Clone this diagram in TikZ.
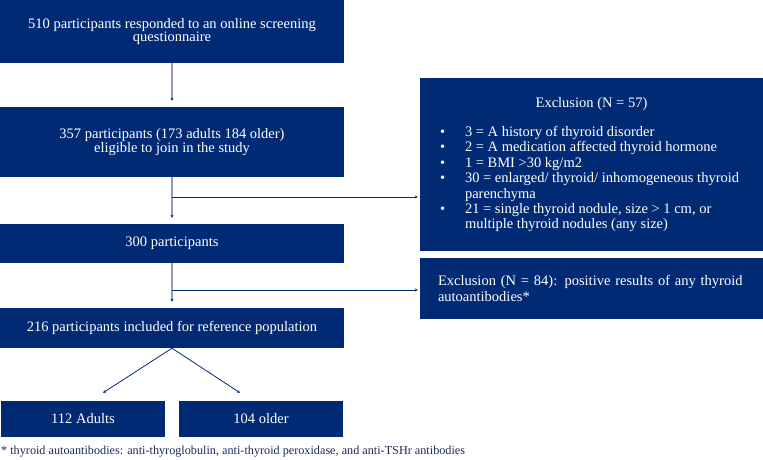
\documentclass[tikz,border=0pt]{standalone}
\usepackage{fontspec}
\setmainfont{Liberation Serif}
\usetikzlibrary{arrows.meta}
\definecolor{navy}{RGB}{0,43,116}
\definecolor{graystem}{RGB}{150,155,185}
\definecolor{foot}{RGB}{30,40,90}
\tikzset{
  box/.style={fill=navy, text=white, inner sep=0pt, align=center,
    font=\fontsize{14.5}{13.3}\selectfont},
  exbox/.style={fill=navy, text=white, inner xsep=18pt, inner ysep=0pt, align=left,
    font=\fontsize{14.5}{15.4}\selectfont},
  stem/.style={draw=graystem, line width=1.5pt, -{Stealth[length=3pt,width=3pt,color=navy]}, shorten >=6pt},
  branch/.style={draw=navy, line width=0.8pt, -{Stealth[length=3pt,width=3pt]}, shorten >=2pt},
  split/.style={draw=navy, line width=0.8pt, -{Stealth[length=3pt,width=3pt]}},
}
\newcommand{\bitem}[1]{\hangindent=27pt\hangafter=1\noindent\makebox[27pt][l]{\hspace{2pt}\textbullet}#1\par}
\begin{document}
\begin{tikzpicture}[x=1pt,y=-1pt]
\useasboundingbox (0,0) rectangle (763,460);
\node[box, minimum width=344pt, minimum height=63pt] (b1) at (172,31.5)
  {510 participants responded to an online screening\\questionnaire};
\node[box, minimum width=344pt, minimum height=70pt] (b2) at (172,142)
  {357 participants (173 adults 184 older)\\eligible to join in the study};
\node[box, minimum width=344pt, minimum height=39pt] (b3) at (172,243.5)
  {300 participants};
\node[box, minimum width=344pt, minimum height=40pt] (b4) at (172,328)
  {216 participants included for reference population};
\node[box, minimum width=164pt, minimum height=36pt] (adults) at (83,419)
  {112 Adults};
\node[box, minimum width=164pt, minimum height=36pt] (older) at (261,419)
  {104 older};
\node[fill=navy, text=white, inner sep=0pt, minimum width=343pt, minimum height=173pt,
  font=\fontsize{14.5}{15.4}\selectfont] (ex1) at (591.5,164.5)
  {\parbox{307pt}{\centering Exclusion (N = 57)\par\vspace{14pt}
   \raggedright
   \bitem{3 = A history of thyroid disorder}
   \bitem{2 = A medication affected thyroid hormone}
   \bitem{1 = BMI >30 kg/m2}
   \bitem{30 = enlarged/ thyroid/ inhomogeneous thyroid\newline parenchyma}
   \bitem{21 = single thyroid nodule, size > 1 cm, or\newline multiple thyroid nodules (any size)}}};
\node[exbox, minimum width=343pt, minimum height=61pt, text width=307pt] (ex2) at (591.5,288.5)
  {Exclusion (N = 84): positive results of any thyroid\\autoantibodies*};
\node[anchor=west, inner sep=0pt, text=foot, font=\fontsize{12.2}{13}\selectfont] (fn) at (1,452)
  {* thyroid autoantibodies: anti-thyroglobulin, anti-thyroid peroxidase, and anti-TSHr antibodies};
\coordinate (j1) at (172,197);
\coordinate (j2) at (172,290);
\draw[stem] (b1.south) -- (b2.north);
\draw[stem] (b2.south) -- (b3.north);
\draw[stem] (b3.south) -- (b4.north);
\draw[branch] (j1) -- (ex1.west |- j1);
\draw[branch] (j2) -- (ex2.west |- j2);
\draw[split] (b4.south) -- ([xshift=20pt,yshift=8pt]adults.north);
\draw[split] (b4.south) -- ([xshift=-21pt,yshift=8pt]older.north);
\end{tikzpicture}
\end{document}
